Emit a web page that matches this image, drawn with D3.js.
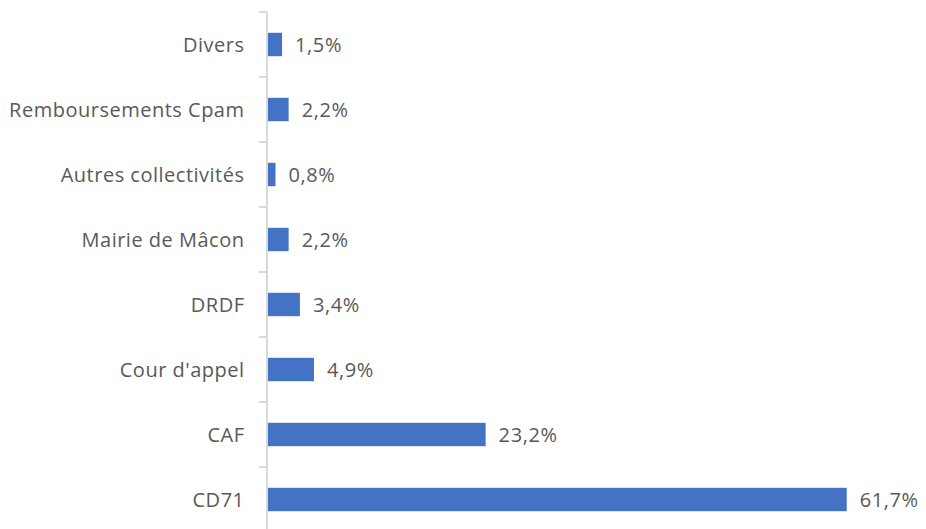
<!DOCTYPE html>
<html>
<head>
<meta charset="utf-8">
<script src="https://cdn.jsdelivr.net/npm/d3@7"></script>
<style>
  body { margin: 0; background: #fff; }
  svg { display: block; font-family: "Open Sans", Lato, sans-serif; }
</style>
</head>
<body>
<div id="bar"></div>
<script>
const categories = ["Divers", "Remboursements Cpam", "Autres collectivités", "Mairie de Mâcon", "DRDF", "Cour d'appel", "CAF", "CD71"];
const values = [1.5, 2.2, 0.8, 2.2, 3.4, 4.9, 23.2, 61.7];

(function () {
  const width = 926, height = 529;
  const axisX = 267;
  const fontSize = "20px";

  const svg = d3.select("#bar").append("svg")
    .attr("width", width)
    .attr("height", height);

  const x = d3.scaleLinear()
    .domain([0, 70])
    .range([axisX + 1, axisX + 1 + 70 * 9.38]);

  const y = d3.scaleBand()
    .domain(categories)
    .range([12, 532])
    .paddingInner(0.64)
    .paddingOuter(0.32);

  const data = categories.map((c, i) => ({ cat: c, val: values[i] }));

  // category boundary ticks
  const step = y.step();
  const bounds = d3.range(categories.length + 1).map(i => 12 + i * step);
  svg.selectAll(".tick-mark")
    .data(bounds)
    .join("line")
    .attr("x1", axisX - 8)
    .attr("x2", axisX)
    .attr("y1", d => d)
    .attr("y2", d => d)
    .attr("stroke", "#d9d9d9")
    .attr("stroke-width", 2);

  svg.append("line")
    .attr("x1", axisX).attr("x2", axisX)
    .attr("y1", 12).attr("y2", height)
    .attr("stroke", "#d9d9d9")
    .attr("stroke-width", 2);

  svg.selectAll("rect")
    .data(data)
    .join("rect")
    .attr("x", x(0))
    .attr("y", d => y(d.cat))
    .attr("width", d => x(d.val) - x(0))
    .attr("height", y.bandwidth())
    .attr("fill", "#4472c4");

  svg.selectAll(".cat-label")
    .data(data)
    .join("text")
    .attr("class", "cat-label")
    .attr("x", 244.5)
    .attr("y", d => y(d.cat) + y.bandwidth() / 2)
    .attr("dy", "0.35em")
    .attr("text-anchor", "end")
    .attr("fill", "#595959")
    .style("font-size", fontSize)
    .style("letter-spacing", "0.5px")
    .text(d => d.cat);

  svg.selectAll(".val-label")
    .data(data)
    .join("text")
    .attr("class", "val-label")
    .attr("x", d => x(d.val) + 13)
    .attr("y", d => y(d.cat) + y.bandwidth() / 2)
    .attr("dy", "0.35em")
    .attr("fill", "#595959")
    .style("font-size", fontSize)
    .style("letter-spacing", "0.6px")
    .text(d => d.val.toFixed(1).replace(".", ",") + "%");
})();
</script>
</body>
</html>
